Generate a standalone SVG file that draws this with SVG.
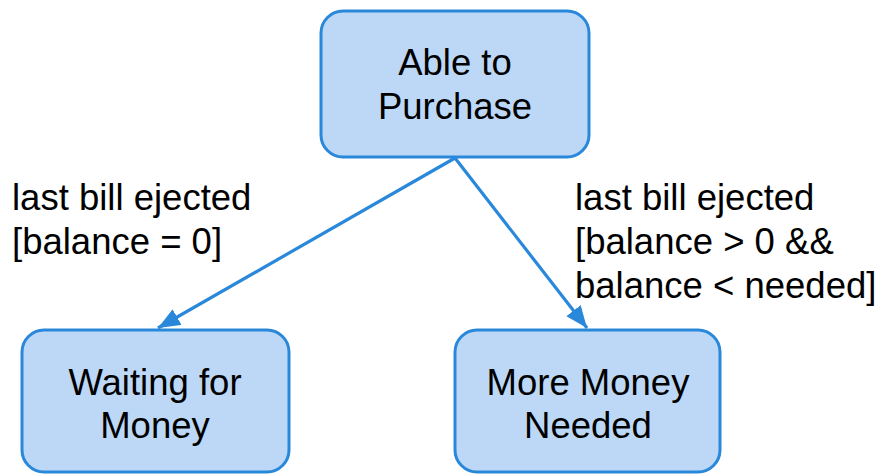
<svg xmlns="http://www.w3.org/2000/svg" width="884" height="474" viewBox="0 0 884 474">
<style>
.node rect{fill:#bcd8f6;stroke:#2a88da;stroke-width:3}
text{font-family:"Liberation Sans",Arial,sans-serif;font-size:36.5px;fill:#000}
.c{text-anchor:middle}
.edge{stroke:#2a88da;stroke-width:3.2;fill:none}
</style>
<defs>
<marker id="arr" markerUnits="userSpaceOnUse" markerWidth="24" markerHeight="20" refX="22" refY="9" orient="auto">
<path d="M0,0 L22,9 L0,18 Z" fill="#2a88da"/>
</marker>
</defs>
<g id="n1" class="node">
<rect x="321" y="11" width="268" height="146" rx="22"/>
<text class="c" x="455" y="75">Able to</text>
<text class="c" x="455" y="119">Purchase</text>
</g>
<g id="n2" class="node">
<rect x="22" y="330" width="267" height="142" rx="22"/>
<text class="c" x="155" y="395">Waiting for</text>
<text class="c" x="155" y="438">Money</text>
</g>
<g id="n3" class="node">
<rect x="455" y="330" width="265" height="142" rx="22"/>
<text class="c" x="588" y="395">More Money</text>
<text class="c" x="588" y="438">Needed</text>
</g>
<g id="edges">
<line class="edge" x1="455" y1="158" x2="158" y2="328" marker-end="url(#arr)"/>
<line class="edge" x1="455" y1="158" x2="587" y2="328" marker-end="url(#arr)"/>
<text x="12" y="210">last bill ejected</text>
<text x="12" y="254">[balance = 0]</text>
<text x="575" y="210">last bill ejected</text>
<text x="575" y="254">[balance &gt; 0 &amp;&amp;</text>
<text x="575" y="298">balance &lt; needed]</text>
</g>
</svg>
